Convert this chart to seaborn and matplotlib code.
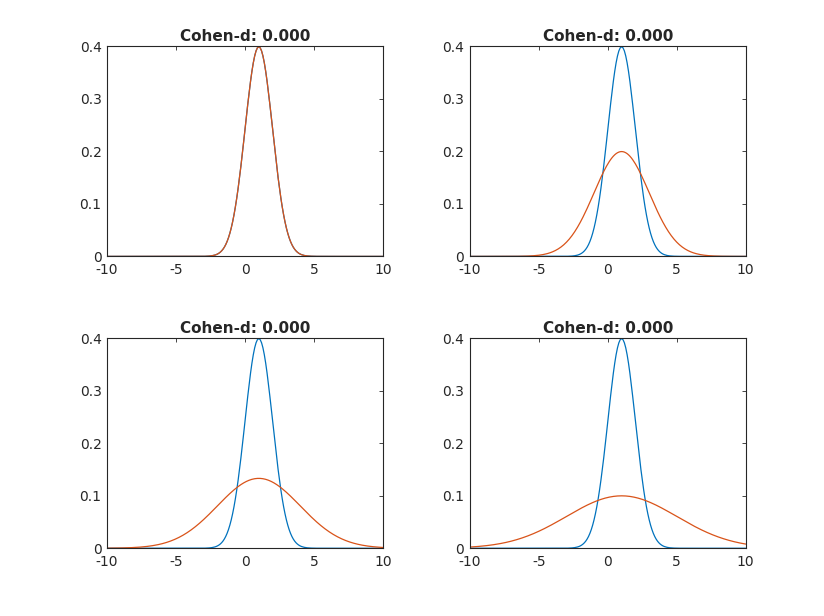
import numpy as np
import matplotlib
matplotlib.use("Agg")
import matplotlib.pyplot as plt
import seaborn as sns
import pandas as pd

# distribution parameters
ref_mean = 1.0
ref_sd = 1.0
cmp_means = [1.0, 1.0, 1.0, 1.0]
cmp_sds = [1.0, 2.0, 3.0, 4.0]
titles = ["Cohen-d: 0.000"] * 4
x = np.arange(-10, 10.001, 0.1)

sns.set_style("white")
plt.rcParams['font.family'] = ['DejaVu Sans']
plt.rcParams['axes.unicode_minus'] = False


def npdf(v, m, s):
    return np.exp(-0.5 * ((v - m) / s) ** 2) / (s * np.sqrt(2 * np.pi))


fig = plt.figure(figsize=(8.24, 6.16), dpi=100)
lefts = [0.13, 0.5703]
bottoms = [0.5838, 0.11]
w, h = 0.3347, 0.3412

for i in range(4):
    ax = fig.add_axes([lefts[i % 2], bottoms[i // 2], w, h])
    df = pd.DataFrame({"x": x,
                       "ref": npdf(x, ref_mean, ref_sd),
                       "cmp": npdf(x, cmp_means[i], cmp_sds[i])})
    sns.lineplot(data=df, x="x", y="ref", ax=ax, color="#0072BD", lw=0.9)
    sns.lineplot(data=df, x="x", y="cmp", ax=ax, color="#D95319", lw=0.9)
    ax.set_xlim(-10, 10)
    ax.set_ylim(0, 0.4)
    ax.set_xticks([-10, -5, 0, 5, 10])
    ax.set_xticklabels(["-10", "-5", "0", "5", "10"])
    ax.set_yticks([0, 0.1, 0.2, 0.3, 0.4])
    ax.set_yticklabels(["0", "0.1", "0.2", "0.3", "0.4"])
    ax.set_xlabel("")
    ax.set_ylabel("")
    ax.set_title(titles[i], fontsize=11, fontweight="bold", pad=4)
    ax.tick_params(direction="in", length=3, width=0.6, top=True, right=True,
                   labelsize=10, colors="#262626")
    ax.tick_params(axis="x", pad=5)
    ax.tick_params(axis="y", pad=4)
    for sp in ax.spines.values():
        sp.set_linewidth(0.8)
        sp.set_color("#262626")

fig.savefig("out.png", dpi=100)
